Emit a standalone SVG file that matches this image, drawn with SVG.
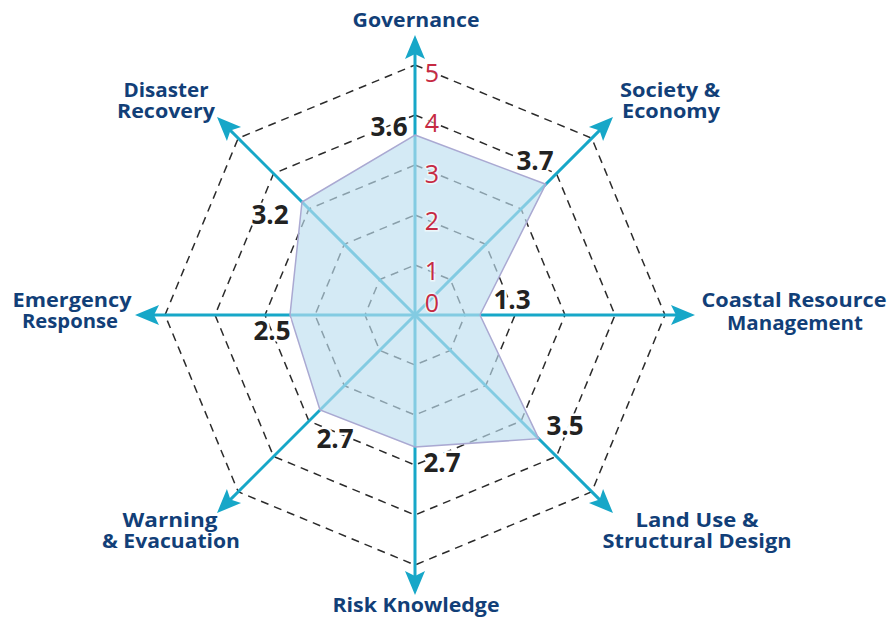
<svg xmlns="http://www.w3.org/2000/svg" width="890" height="621" viewBox="0 0 890 621">
<style>
.grid{fill:none;stroke:#2b2b2b;stroke-width:1.5;stroke-dasharray:8 6}
.axis{stroke:#17a7c8;stroke-width:3;fill:none}
.data{fill:#bddef0;fill-opacity:0.65;stroke:#aaa9d2;stroke-width:1.5}
.tick{font-family:"Open Sans",Lato,sans-serif;font-size:25px;fill:#c62a43;stroke:#ffffff;stroke-opacity:0.6;stroke-width:3;paint-order:stroke;text-anchor:middle}
.val{font-family:"Open Sans",Lato,sans-serif;font-weight:bold;font-size:26px;fill:#222222;stroke:#ffffff;stroke-width:5;paint-order:stroke;text-anchor:middle}
.lbl{font-family:"Open Sans",Lato,sans-serif;font-weight:bold;font-size:20px;fill:#123f78;text-anchor:middle}
</style>
<defs>
<marker id="ah" markerUnits="userSpaceOnUse" markerWidth="30" markerHeight="30" viewBox="-12 -12 30 24" refX="0" refY="0" orient="auto">
<path d="M15,0 L-9,-10 L-4,0 L-9,10 Z" fill="#17a7c8"/>
</marker>
</defs>
<g id="grid">
<polygon class="grid" points="415,265 450.36,279.64 465,315 450.36,350.36 415,365 379.64,350.36 365,315 379.64,279.64"/>
<polygon class="grid" points="415,215 485.71,244.29 515,315 485.71,385.71 415,415 344.29,385.71 315,315 344.29,244.29"/>
<polygon class="grid" points="415,165 521.07,208.93 565,315 521.07,421.07 415,465 308.93,421.07 265,315 308.93,208.93"/>
<polygon class="grid" points="415,115 556.42,173.58 615,315 556.42,456.42 415,515 273.58,456.42 215,315 273.58,173.58"/>
<polygon class="grid" points="415,65 591.78,138.22 665,315 591.78,491.78 415,565 238.22,491.78 165,315 238.22,138.22"/>
</g>
<g id="connectors">
<line class="axis" x1="415" y1="315" x2="415" y2="50" marker-end="url(#ah)"/>
<line class="axis" x1="415" y1="315" x2="602.38" y2="127.62" marker-end="url(#ah)"/>
<line class="axis" x1="415" y1="315" x2="680" y2="315" marker-end="url(#ah)"/>
<line class="axis" x1="415" y1="315" x2="602.38" y2="502.38" marker-end="url(#ah)"/>
<line class="axis" x1="415" y1="315" x2="415" y2="580" marker-end="url(#ah)"/>
<line class="axis" x1="415" y1="315" x2="227.62" y2="502.38" marker-end="url(#ah)"/>
<line class="axis" x1="415" y1="315" x2="150" y2="315" marker-end="url(#ah)"/>
<line class="axis" x1="415" y1="315" x2="227.62" y2="127.62" marker-end="url(#ah)"/>
</g>
<g id="data">
<polygon class="data" points="415,135 545.8,184.2 480,315 538.7,438.7 415,447 320,410 290,315 302,202"/>
</g>
<g id="ticks">
<text class="tick" x="432" y="82">5</text>
<text class="tick" x="432" y="132">4</text>
<text class="tick" x="432" y="183">3</text>
<text class="tick" x="432" y="230">2</text>
<text class="tick" x="432" y="280">1</text>
<text class="tick" x="432" y="312">0</text>
</g>
<g id="values">
<text class="val" x="389" y="136">3.6</text>
<text class="val" x="535" y="170">3.7</text>
<text class="val" x="512" y="309">1.3</text>
<text class="val" x="565" y="435">3.5</text>
<text class="val" x="442" y="472">2.7</text>
<text class="val" x="335" y="448">2.7</text>
<text class="val" x="272" y="340">2.5</text>
<text class="val" x="270" y="224">3.2</text>
</g>
<g id="node-governance"><text class="lbl" x="416" y="27" textLength="127" lengthAdjust="spacingAndGlyphs">Governance</text></g>
<g id="node-society"><text class="lbl" x="670" y="97" textLength="100" lengthAdjust="spacingAndGlyphs">Society &amp;</text><text class="lbl" x="671" y="118" textLength="98" lengthAdjust="spacingAndGlyphs">Economy</text></g>
<g id="node-coastal"><text class="lbl" x="794" y="307" textLength="185" lengthAdjust="spacingAndGlyphs">Coastal Resource</text><text class="lbl" x="795" y="330" textLength="136" lengthAdjust="spacingAndGlyphs">Management</text></g>
<g id="node-landuse"><text class="lbl" x="697" y="527" textLength="123" lengthAdjust="spacingAndGlyphs">Land Use &amp;</text><text class="lbl" x="697" y="548" textLength="189" lengthAdjust="spacingAndGlyphs">Structural Design</text></g>
<g id="node-risk"><text class="lbl" x="416" y="612" textLength="167" lengthAdjust="spacingAndGlyphs">Risk Knowledge</text></g>
<g id="node-warning"><text class="lbl" x="170" y="527" textLength="95" lengthAdjust="spacingAndGlyphs">Warning</text><text class="lbl" x="171" y="548" textLength="138" lengthAdjust="spacingAndGlyphs">&amp; Evacuation</text></g>
<g id="node-emergency"><text class="lbl" x="72" y="307" textLength="119" lengthAdjust="spacingAndGlyphs">Emergency</text><text class="lbl" x="70" y="328" textLength="96" lengthAdjust="spacingAndGlyphs">Response</text></g>
<g id="node-disaster"><text class="lbl" x="166" y="97" textLength="85" lengthAdjust="spacingAndGlyphs">Disaster</text><text class="lbl" x="166" y="118" textLength="98" lengthAdjust="spacingAndGlyphs">Recovery</text></g>
</svg>
